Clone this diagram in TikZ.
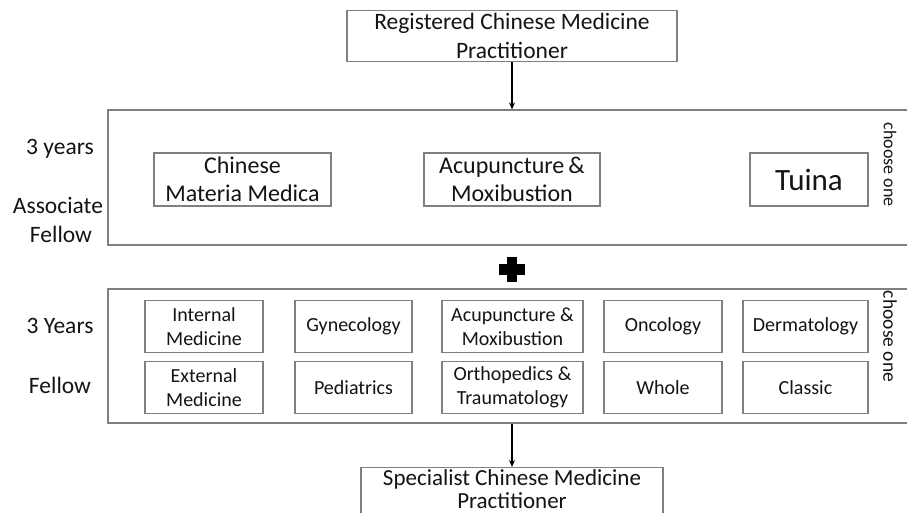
\documentclass[tikz,border=0pt]{standalone}
\usepackage{fontspec}
\setmainfont{Carlito}
\usetikzlibrary{arrows.meta}
\definecolor{edgegray}{RGB}{128,128,128}
\definecolor{ink}{RGB}{20,20,20}
\tikzset{
  box/.style={draw=edgegray, line width=1.2pt, inner sep=0pt, align=center, text=ink},
  bigtxt/.style={font=\fontsize{23.5}{29}\selectfont},
  midtxt/.style={font=\fontsize{24}{28}\selectfont},
  smalltxt/.style={font=\fontsize{20}{24}\selectfont},
  sidelabel/.style={anchor=base, text=ink, inner sep=0pt, font=\fontsize{23.5}{29}\selectfont},
  choose/.style={rotate=-90, text=ink, inner sep=0pt},
  flow/.style={draw=black, line width=1.4pt, -{Stealth[length=7pt,width=6pt]}}
}
\begin{document}
\begin{tikzpicture}[x=1pt,y=-1pt]
\useasboundingbox (0,0) rectangle (907,513);
\clip (0,0) rectangle (907,513);
\fill[white] (0,0) rectangle (907,513);

% top
\node[box, bigtxt, minimum width=330pt, minimum height=51pt] (reg) at (512,36) {Registered Chinese Medicine\\Practitioner};

% associate fellow block
\node[box, minimum width=802pt, minimum height=135pt] (assoc) at (509,177.5) {};
\node[box, midtxt, minimum width=177pt, minimum height=53pt] (cmm) at (242.5,179.5) {Chinese\\Materia Medica};
\node[box, midtxt, minimum width=176pt, minimum height=53pt] (acu1) at (512,179.5) {Acupuncture\,\&\\Moxibustion};
\node[box, font=\fontsize{31}{36}\selectfont, minimum width=118pt, minimum height=53pt] (tuina) at (809,179.5) {Tuina};
\node[choose, font=\fontsize{18}{22}\selectfont] (ch1) at (890,164.5) {choose one};
\node[sidelabel] (y1) at (60,155) {3 years};
\node[sidelabel] (as) at (58,213) {Associate};
\node[sidelabel] (f1) at (61,242) {Fellow};

% plus
\fill[black] (499,264) rectangle (525,275);
\fill[black] (507,257) rectangle (517,282);

% fellow block
\node[box, minimum width=802pt, minimum height=134pt] (fel) at (509,356) {};
\node[box, smalltxt, minimum width=118pt, minimum height=52pt] (im) at (204,326.5) {Internal\\Medicine};
\node[box, smalltxt, minimum width=117pt, minimum height=52pt] (gy) at (353.5,326.5) {Gynecology};
\node[box, smalltxt, minimum width=141pt, minimum height=52pt] (acu2) at (512.5,326.5) {Acupuncture \&\\Moxibustion};
\node[box, smalltxt, minimum width=118pt, minimum height=52pt] (onc) at (663,326.5) {Oncology};
\node[box, smalltxt, minimum width=125pt, minimum height=52pt] (der) at (805.5,326.5) {Dermatology};
\node[box, smalltxt, minimum width=118pt, minimum height=52pt] (em) at (204,387.5) {External\\Medicine};
\node[box, smalltxt, minimum width=117pt, minimum height=52pt] (ped) at (353.5,387.5) {Pediatrics};
\node[box, smalltxt, minimum width=141pt, minimum height=52pt] (ort) at (512.5,387.5) {Orthopedics \&\\Traumatology};
\node[box, smalltxt, minimum width=118pt, minimum height=52pt] (who) at (663,387.5) {Whole};
\node[box, smalltxt, minimum width=125pt, minimum height=52pt] (cla) at (805.5,387.5) {Classic};
\node[choose, font=\fontsize{19.5}{23}\selectfont] (ch2) at (890,336.5) {choose one};
\node[sidelabel] (y2) at (60,333) {3 Years};
\node[sidelabel] (f2) at (60,393) {Fellow};

% bottom
\node[box, minimum width=302pt, minimum height=74pt, anchor=north] (spec) at (512,467) {};
\node[font=\fontsize{23}{23}\selectfont, text=ink, anchor=base, align=center, inner sep=0pt] (spectxt) at (512,508) {Specialist Chinese Medicine\\Practitioner};

% connectors
\draw[flow] (reg.south) -- (reg.south |- assoc.north);
\draw[flow] (spec.north |- fel.south) -- (spec.north);
\end{tikzpicture}
\end{document}
